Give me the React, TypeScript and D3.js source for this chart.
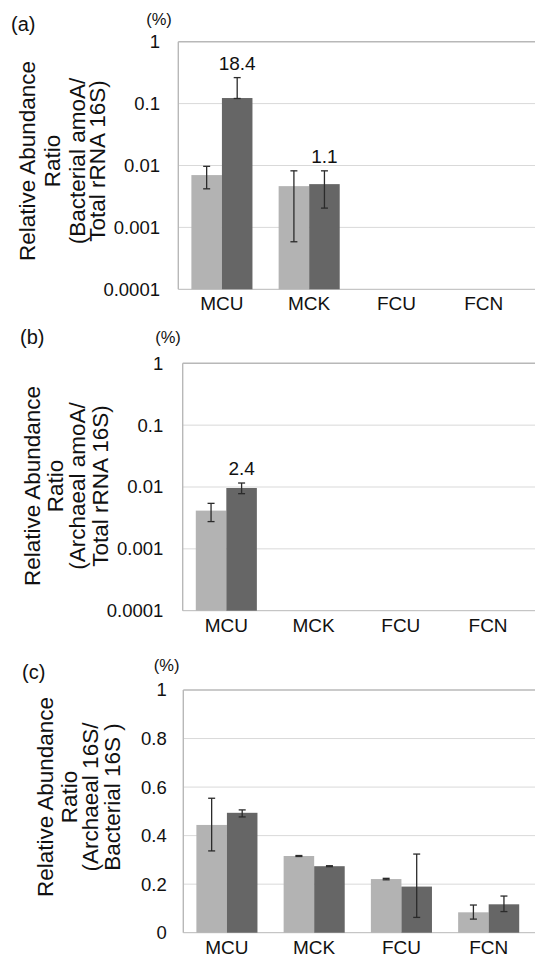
import React from 'react';
import * as d3 from 'd3';

const categories = ['MCU', 'MCK', 'FCU', 'FCN'];

// (a) Bacterial amoA / Total rRNA 16S
const bacLight = [0.007, 0.00464, null, null];
const bacLightLo = [0.0042, 0.000586, null, null];
const bacLightHi = [0.0097, 0.0082, null, null];
const bacDark = [0.123, 0.005, null, null];
const bacDarkLo = [0.121, 0.00205, null, null];
const bacDarkHi = [0.263, 0.0082, null, null];
const bacLabels = ['18.4', '1.1', null, null];

// (b) Archaeal amoA / Total rRNA 16S
const archLight = [0.00415, null, null, null];
const archLightLo = [0.00276, null, null, null];
const archLightHi = [0.00544, null, null, null];
const archDark = [0.00963, null, null, null];
const archDarkLo = [0.0078, null, null, null];
const archDarkHi = [0.0116, null, null, null];
const archLabels = ['2.4', null, null, null];

// (c) Archaeal 16S / Bacterial 16S
const ratioLight = [0.444, 0.316, 0.221, 0.084];
const ratioLightLo = [0.337, 0.314, 0.218, 0.056];
const ratioLightHi = [0.554, 0.318, 0.224, 0.114];
const ratioDark = [0.494, 0.274, 0.19, 0.117];
const ratioDarkLo = [0.477, 0.272, 0.063, 0.087];
const ratioDarkHi = [0.506, 0.276, 0.324, 0.151];

const logTicks = [1, 0.1, 0.01, 0.001, 0.0001];
const logTickLabels = ['1', '0.1', '0.01', '0.001', '0.0001'];
const linTicks = [1, 0.8, 0.6, 0.4, 0.2, 0];
const linTickLabels = ['1', '0.8', '0.6', '0.4', '0.2', '0'];

const FONT = '"Liberation Sans", Arial, Helvetica, sans-serif';
const LIGHT = '#b3b3b3';
const DARK = '#666666';
const W = 535;

type Num = number | null;

interface PanelProps {
  tag: string;
  title: string[];
  log: boolean;
  ticks: number[];
  tickLabels: string[];
  light: Num[];
  lightLo: Num[];
  lightHi: Num[];
  dark: Num[];
  darkLo: Num[];
  darkHi: Num[];
  labels?: (string | null)[];
  left: number;
  top: number;
  bottom: number;
  tickX: number;
  pctX: number;
  pctY: number;
  tagX: number;
  tagY: number;
  titleX: number[];
  titleY: number;
}

const Panel: React.FC<PanelProps> = p => {
  const y = p.log
    ? d3.scaleLog().domain([0.0001, 1]).range([p.bottom, p.top])
    : d3.scaleLinear().domain([0, 1]).range([p.bottom, p.top]);

  const x = d3
    .scaleBand<string>()
    .domain(categories)
    .range([p.left, p.left + 349])
    .paddingInner(0.3)
    .paddingOuter(0.15);

  const inner = d3.scaleBand<string>().domain(['light', 'dark']).range([0, x.bandwidth()]);

  const series = [
    { key: 'light', vals: p.light, lo: p.lightLo, hi: p.lightHi, color: LIGHT },
    { key: 'dark', vals: p.dark, lo: p.darkLo, hi: p.darkHi, color: DARK },
  ];

  return (
    <g>
      <text x={p.tagX} y={p.tagY} dy="0.35em" fontSize={20} fill="#111">
        {p.tag}
      </text>
      <text x={p.pctX} y={p.pctY} dy="0.35em" fontSize={16.5} textAnchor="middle" fill="#111">
        (%)
      </text>

      {p.title.map((line, i) => (
        <text
          key={line}
          transform={`translate(${p.titleX[i]},${p.titleY}) rotate(-90)`}
          dy="0.35em"
          textAnchor="middle"
          fontSize={22.5}
          fill="#111"
        >
          {line}
        </text>
      ))}

      {/* gridlines */}
      {p.ticks.map(t => (
        <line
          key={t}
          x1={p.left}
          x2={W}
          y1={y(t)}
          y2={y(t)}
          stroke={t === p.ticks[0] || t === p.ticks[p.ticks.length - 1] ? '#b8b8b8' : '#d9d9d9'}
          strokeWidth={t === p.ticks[0] ? 1.4 : 1}
        />
      ))}
      <line x1={p.left} x2={p.left} y1={p.top} y2={p.bottom} stroke="#b8b8b8" strokeWidth={1.4} />

      {p.ticks.map((t, i) => (
        <text key={t} x={p.tickX} y={y(t)} dy="0.35em" textAnchor="end" fontSize={18.5} fill="#111">
          {p.tickLabels[i]}
        </text>
      ))}

      {/* bars */}
      {categories.map((c, ci) =>
        series.map(s => {
          const v = s.vals[ci];
          if (v == null) return null;
          const bx = (x(c) as number) + (inner(s.key) as number);
          return (
            <rect
              key={c + s.key}
              x={bx}
              y={y(v)}
              width={inner.bandwidth()}
              height={p.bottom - y(v)}
              fill={s.color}
            />
          );
        })
      )}

      {/* error bars */}
      {categories.map((c, ci) =>
        series.map(s => {
          const lo = s.lo[ci];
          const hi = s.hi[ci];
          if (lo == null || hi == null) return null;
          const cx = (x(c) as number) + (inner(s.key) as number) + inner.bandwidth() / 2;
          return (
            <g key={'e' + c + s.key} stroke="#2b2b2b" strokeWidth={1.3}>
              <line x1={cx} x2={cx} y1={y(lo)} y2={y(hi)} />
              <line x1={cx - 3.5} x2={cx + 3.5} y1={y(lo)} y2={y(lo)} />
              <line x1={cx - 3.5} x2={cx + 3.5} y1={y(hi)} y2={y(hi)} />
            </g>
          );
        })
      )}

      {/* value labels */}
      {p.labels &&
        p.labels.map((l, ci) => {
          const hi = p.darkHi[ci];
          if (l == null || hi == null) return null;
          const cx =
            (x(categories[ci]) as number) + (inner('dark') as number) + inner.bandwidth() / 2;
          return (
            <text key={'l' + ci} x={cx} y={y(hi) - 8} textAnchor="middle" fontSize={19} fill="#111">
              {l}
            </text>
          );
        })}

      {/* categories */}
      {categories.map(c => (
        <text
          key={'c' + c}
          x={(x(c) as number) + x.bandwidth() / 2}
          y={p.bottom + 21}
          textAnchor="middle"
          fontSize={19}
          fill="#111"
        >
          {c}
        </text>
      ))}
    </g>
  );
};

export default function App() {
  return (
    <svg
      width={W}
      height={958}
      style={{ position: 'absolute', left: 0, top: 0, background: '#fff', fontFamily: FONT }}
    >
      <rect width={W} height={958} fill="#fff" />
      <Panel
        tag="(a)"
        title={['Relative Abundance', 'Ratio', '(Bacterial amoA/', 'Total rRNA 16S)']}
        log
        ticks={logTicks}
        tickLabels={logTickLabels}
        light={bacLight}
        lightLo={bacLightLo}
        lightHi={bacLightHi}
        dark={bacDark}
        darkLo={bacDarkLo}
        darkHi={bacDarkHi}
        labels={bacLabels}
        left={178.3}
        top={41.7}
        bottom={289.3}
        tickX={160}
        pctX={159}
        pctY={19}
        tagX={11}
        tagY={24}
        titleX={[27.5, 51.7, 76.7, 97.5]}
        titleY={161}
      />
      <Panel
        tag="(b)"
        title={['Relative Abundance', 'Ratio', '(Archaeal amoA/', 'Total rRNA 16S)']}
        log
        ticks={logTicks}
        tickLabels={logTickLabels}
        light={archLight}
        lightLo={archLightLo}
        lightHi={archLightHi}
        dark={archDark}
        darkLo={archDarkLo}
        darkHi={archDarkHi}
        labels={archLabels}
        left={182.7}
        top={363.3}
        bottom={610.7}
        tickX={163.3}
        pctX={168}
        pctY={337}
        tagX={20}
        tagY={337}
        titleX={[31.7, 55, 77.3, 100]}
        titleY={486}
      />
      <Panel
        tag="(c)"
        title={['Relative Abundance', 'Ratio', '(Archaeal 16S/', 'Bacterial 16S )']}
        log={false}
        ticks={linTicks}
        tickLabels={linTickLabels}
        light={ratioLight}
        lightLo={ratioLightLo}
        lightHi={ratioLightHi}
        dark={ratioDark}
        darkLo={ratioDarkLo}
        darkHi={ratioDarkHi}
        left={183.3}
        top={690}
        bottom={932.7}
        tickX={166.7}
        pctX={166.7}
        pctY={665}
        tagX={22}
        tagY={672}
        titleX={[45, 69, 90, 111.7]}
        titleY={797}
      />
    </svg>
  );
}
